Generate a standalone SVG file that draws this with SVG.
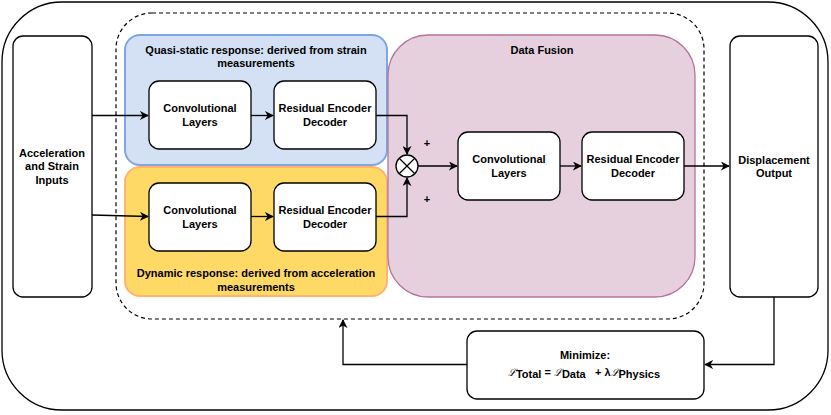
<svg xmlns="http://www.w3.org/2000/svg" width="831" height="415" viewBox="0 0 831 415">
<style>
text{font-family:"Liberation Sans",Arial,sans-serif;font-size:11px;font-weight:bold;fill:#000;text-anchor:middle}
.box{fill:#fff;stroke:#000;stroke-width:1.3}
.ln{fill:none;stroke:#000;stroke-width:1.3}
.sc{font-family:"DejaVu Serif",serif;font-style:italic;font-weight:normal;font-size:10px}
</style>
<defs>
<marker id="ah" viewBox="0 0 10 10" refX="9" refY="5" markerWidth="9" markerHeight="9" markerUnits="userSpaceOnUse" orient="auto">
<path d="M0,0 L10,5 L0,10 L3,5 Z" fill="#000"/>
</marker>
</defs>
<g id="outer"><rect x="2" y="2" width="826" height="408" rx="60" ry="60" fill="#fff" stroke="#000" stroke-width="1.3"/></g>
<g id="dashed"><rect x="116" y="13" width="588" height="306" rx="36" ry="36" fill="none" stroke="#000" stroke-width="1.2" stroke-dasharray="4,3"/></g>
<g id="quasi">
<rect x="125" y="35" width="262" height="130" rx="15" fill="#D4E1F5" stroke="#7EA6E0" stroke-width="2"/>
<text x="256" y="54">Quasi-static response: derived from strain</text>
<text x="256" y="67">measurements</text>
</g>
<g id="dynamic">
<rect x="125" y="167" width="262" height="129" rx="15" fill="#FFD966" stroke="#FFB570" stroke-width="2"/>
<text x="256" y="277">Dynamic response: derived from acceleration</text>
<text x="256" y="291">measurements</text>
</g>
<g id="fusion">
<rect x="388" y="35" width="307" height="262" rx="40" fill="#E6D0DE" stroke="#B5739D" stroke-width="1.3"/>
<text x="542" y="54">Data Fusion</text>
</g>
<g id="input">
<rect class="box" x="13" y="36" width="79" height="261" rx="10"/>
<text x="52" y="157">Acceleration</text>
<text x="52" y="170">and Strain</text>
<text x="52" y="184">Inputs</text>
</g>
<g id="output">
<rect class="box" x="730" y="36" width="88" height="261" rx="10"/>
<text x="774" y="164">Displacement</text>
<text x="774" y="177">Output</text>
</g>
<g id="q-conv"><rect class="box" x="149" y="81" width="102" height="68" rx="10"/><text x="200" y="112">Convolutional</text><text x="200" y="126">Layers</text></g>
<g id="q-red"><rect class="box" x="274" y="81" width="102" height="68" rx="10"/><text x="325" y="112">Residual Encoder</text><text x="325" y="126">Decoder</text></g>
<g id="d-conv"><rect class="box" x="149" y="183" width="102" height="68" rx="10"/><text x="200" y="214">Convolutional</text><text x="200" y="228">Layers</text></g>
<g id="d-red"><rect class="box" x="274" y="183" width="102" height="68" rx="10"/><text x="325" y="214">Residual Encoder</text><text x="325" y="228">Decoder</text></g>
<g id="f-conv"><rect class="box" x="458" y="132" width="102" height="68" rx="10"/><text x="509" y="163">Convolutional</text><text x="509" y="177">Layers</text></g>
<g id="f-red"><rect class="box" x="582" y="132" width="102" height="68" rx="10"/><text x="633" y="163">Residual Encoder</text><text x="633" y="177">Decoder</text></g>
<g id="sum">
<circle cx="407" cy="166" r="11" fill="#fff" stroke="#000" stroke-width="1.3"/>
<path class="ln" d="M399.2,158.2 L414.8,173.8 M414.8,158.2 L399.2,173.8"/>
</g>
<g id="minimize">
<rect class="box" x="467" y="331" width="237" height="68" rx="10"/>
<text x="585" y="359">Minimize:</text>
<text x="584" y="378" xml:space="preserve"><tspan class="sc" dy="-2">ℒ</tspan><tspan dy="2">Total</tspan><tspan dy="-2"> = </tspan><tspan class="sc">ℒ</tspan><tspan dy="2">Data  </tspan><tspan dy="-2"> + λ</tspan><tspan class="sc">ℒ</tspan><tspan dy="2">Physics</tspan></text>
</g>
<g id="connectors">
<path class="ln" d="M92,115.5 L148,115.5" marker-end="url(#ah)"/>
<path class="ln" d="M92,215 L148,216.5" marker-end="url(#ah)"/>
<path class="ln" d="M251,115.5 L273,115.5" marker-end="url(#ah)"/>
<path class="ln" d="M251,216.5 L273,216.5" marker-end="url(#ah)"/>
<path class="ln" d="M376,115.5 L407,115.5 L407,154" marker-end="url(#ah)"/>
<path class="ln" d="M376,216.5 L407,216.5 L407,178" marker-end="url(#ah)"/>
<path class="ln" d="M418,166 L457,166" marker-end="url(#ah)"/>
<path class="ln" d="M560,166 L581,166" marker-end="url(#ah)"/>
<path class="ln" d="M684,166 L729,166" marker-end="url(#ah)"/>
<path class="ln" d="M774,297 L774,364.5 L705,364.5" marker-end="url(#ah)"/>
<path class="ln" d="M467,364.5 L343,364.5 L343,320" marker-end="url(#ah)"/>
<text x="427" y="147">+</text>
<text x="427" y="203">+</text>
</g>
</svg>
